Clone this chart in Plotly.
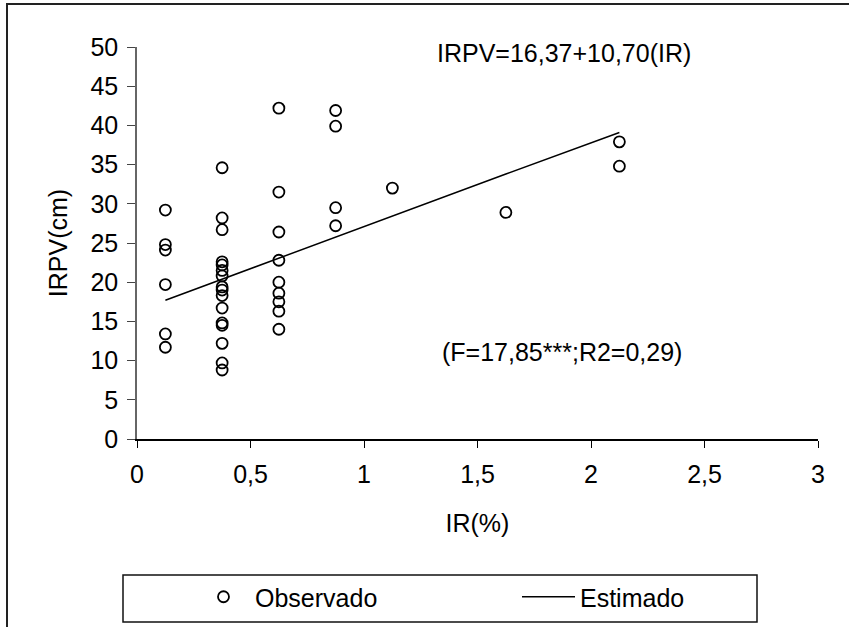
import plotly.graph_objects as go

# ---- data ----
ir_obs = [0.125]*6 + [0.375]*16 + [0.625]*9 + [0.875]*4 + [1.125] + [1.625] + [2.125]*2
irpv_obs = [29.2, 24.8, 24.1, 19.7, 13.4, 11.7,
            34.6, 28.2, 26.7, 22.6, 22.2, 21.5, 20.8, 19.4, 19.0, 18.3, 16.7, 14.8, 14.5, 12.2, 9.7, 8.8,
            42.2, 31.5, 26.4, 22.8, 20.0, 18.6, 17.5, 16.3, 14.0,
            41.9, 39.9, 29.5, 27.2,
            32.0,
            28.9,
            37.9, 34.8]
ir_est = [0.125, 0.375, 0.625, 0.875, 1.125, 1.625, 2.125]
irpv_est = [17.7, 20.4, 23.1, 25.7, 28.4, 33.8, 39.1]

x_ticks = [0, 0.5, 1, 1.5, 2, 2.5, 3]
x_ticklabels = ["0", "0,5", "1", "1,5", "2", "2,5", "3"]
y_ticks = [0, 5, 10, 15, 20, 25, 30, 35, 40, 45, 50]

W, H = 849, 627
L, R, T, B = 137, 31, 47, 188
PW, PH = W - L - R, H - T - B

def px(xp):
    return (xp - L) / PW

def py(yp):
    return (H - B - yp) / PH

FONT = "Liberation Sans, Arial, sans-serif"
FS = 25

fig = go.Figure()
fig.add_trace(go.Scatter(
    x=ir_obs, y=irpv_obs, mode="markers", name="Observado",
    marker=dict(symbol="circle-open", size=11, color="black", line=dict(width=1.8, color="black")),
    legendwidth=257,
))
fig.add_trace(go.Scatter(
    x=ir_est, y=irpv_est, mode="lines", name="Estimado",
    line=dict(color="black", width=1.5),
    legendwidth=175,
))

fig.update_layout(
    width=W, height=H,
    margin=dict(l=L, r=R, t=T, b=B, autoexpand=False),
    paper_bgcolor="white", plot_bgcolor="white",
    font=dict(family=FONT, size=FS, color="black"),
    showlegend=True,
    legend=dict(
        orientation="h", x=px(192), xanchor="left", y=py(597), yanchor="middle",
        bgcolor="rgba(0,0,0,0)", borderwidth=0,
        itemwidth=53,
        font=dict(family=FONT, size=FS, color="black"),
    ),
    xaxis=dict(
        range=[0, 3], tickvals=x_ticks, ticktext=x_ticklabels,
        showgrid=False, zeroline=False, showline=True, linecolor="black", linewidth=1.5,
        ticks="outside", ticklen=7, tickwidth=1.2, tickcolor="black",
        ticklabelstandoff=5, automargin=False,
        title=dict(text="IR(%)", standoff=28, font=dict(size=FS)),
        fixedrange=True,
    ),
    yaxis=dict(
        range=[0, 50], tickvals=y_ticks,
        showgrid=False, zeroline=False, showline=True, linecolor="#666", linewidth=1.5,
        ticks="outside", ticklen=8, tickwidth=1.2, tickcolor="#444",
        ticklabelstandoff=4, automargin=False,
        title=dict(text="IRPV(cm)", standoff=16, font=dict(size=FS)),
        fixedrange=True,
    ),
    annotations=[
        dict(text="IRPV=16,37+10,70(IR)", xref="paper", yref="paper",
             x=px(564), y=py(53), xanchor="center", yanchor="middle", showarrow=False,
             font=dict(size=FS)),
        dict(text="(F=17,85***;R2=0,29)", xref="paper", yref="paper",
             x=px(562), y=py(352), xanchor="center", yanchor="middle", showarrow=False,
             font=dict(size=FS)),
    ],
    shapes=[
        # outer frame (extends past the window on right and bottom)
        dict(type="rect", xref="paper", yref="paper", x0=px(7), x1=px(860), y0=py(4), y1=py(640),
             line=dict(color="#222", width=2), layer="below"),
        # legend box
        dict(type="rect", xref="paper", yref="paper", x0=px(123), x1=px(757), y0=py(575), y1=py(622),
             line=dict(color="#111", width=1.5), layer="below"),
    ],
)

fig.write_html("out.html")
